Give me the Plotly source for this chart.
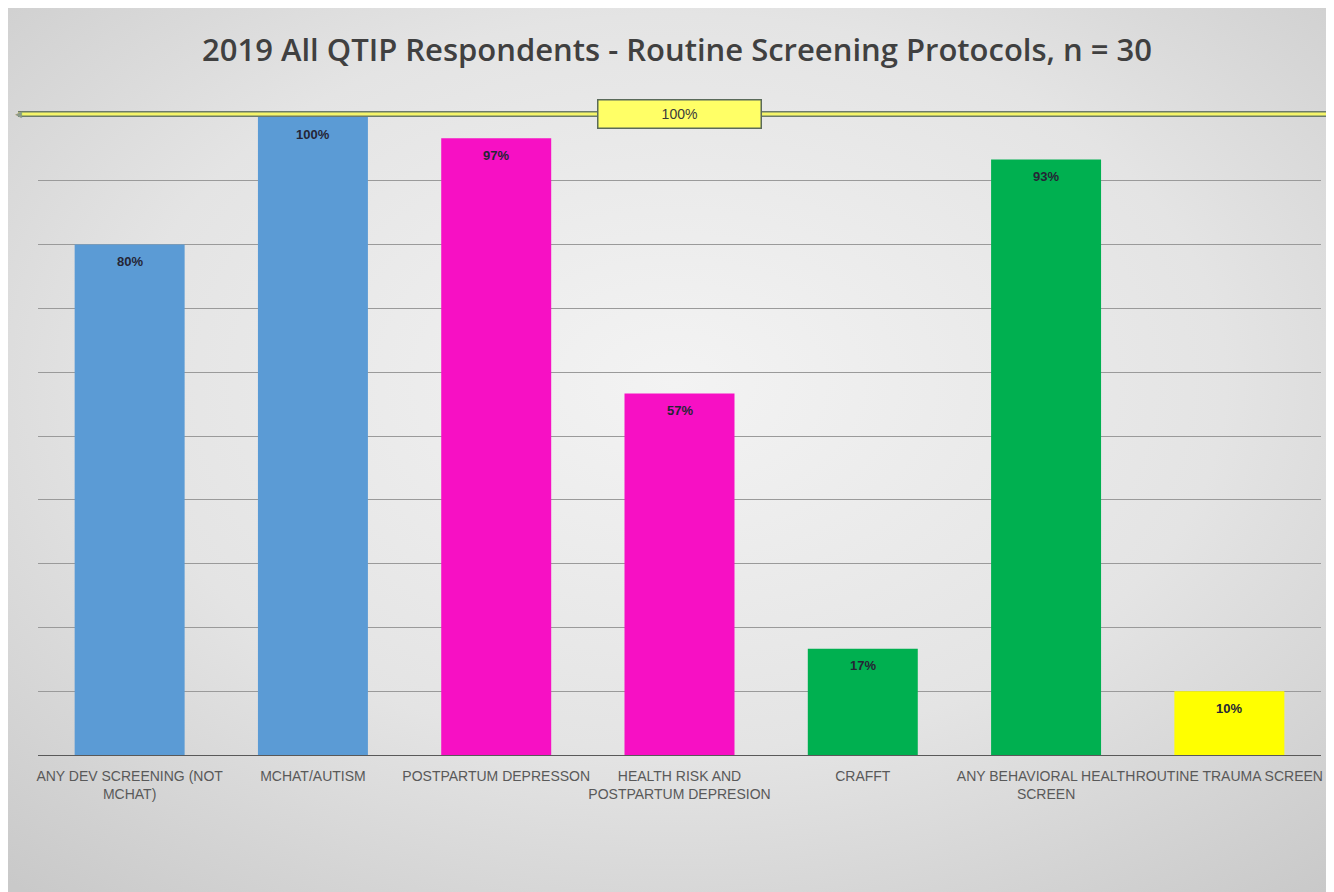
import base64
import plotly.graph_objects as go

categories = ["ANY DEV SCREENING (NOT<br>MCHAT)", "MCHAT/AUTISM", "POSTPARTUM DEPRESSON",
              "HEALTH RISK AND<br>POSTPARTUM DEPRESION", "CRAFFT",
              "ANY BEHAVIORAL HEALTH<br>SCREEN", "ROUTINE TRAUMA SCREEN"]
counts = [24, 30, 29, 17, 5, 28, 3]
n_total = 30
labels = ["80%", "100%", "97%", "57%", "17%", "93%", "10%"]
bar_colors = ["#5B9BD5", "#5B9BD5", "#F710C4", "#F710C4", "#00B050", "#00B050", "#FFFF00"]
target_label = "100%"

values = [c / n_total for c in counts]

W, H = 1334, 892
L, R, T, B = 30, 21, 109, 145
PW, PH = W - L - R, H - T - B

fig = go.Figure()
fig.add_trace(go.Bar(
    x=categories, y=values, marker=dict(color=bar_colors, line=dict(width=0)),
    cliponaxis=False, hoverinfo="skip"))

for c, v, lab in zip(categories, values, labels):
    fig.add_annotation(x=c, y=v, text=lab, showarrow=False, yshift=-17, yanchor="middle",
                       font=dict(family="Liberation Sans Narrow, Liberation Sans", size=13,
                                 color="#252535", weight="bold"))

# gradient background via inline svg
svg = ('<svg xmlns="http://www.w3.org/2000/svg" width="1334" height="892">'
       '<defs><radialGradient id="g" cx="0.5" cy="0.42" r="0.75">'
       '<stop offset="0" stop-color="#F3F3F3"/><stop offset="0.55" stop-color="#E4E4E4"/>'
       '<stop offset="1" stop-color="#C9C9C9"/></radialGradient></defs>'
       '<rect width="1334" height="892" fill="url(#g)"/></svg>')
src = "data:image/svg+xml;base64," + base64.b64encode(svg.encode()).decode()
fig.add_layout_image(source=src, xref="paper", yref="paper", x=-L / PW, y=1 + T / PH,
                     sizex=W / PW, sizey=H / PH, sizing="stretch", xanchor="left", yanchor="top",
                     layer="below")

# target line at 100%
ty = 1 + 3 / PH
x0 = (18 - 38) / PW
x1 = (1340 - 38) / PW
fig.add_shape(type="line", xref="paper", yref="paper", x0=x0, x1=x1, y0=ty, y1=ty,
              line=dict(color="#6B7B6B", width=6), layer="above")
fig.add_shape(type="line", xref="paper", yref="paper", x0=x0, x1=x1, y0=ty, y1=ty,
              line=dict(color="#F5F56A", width=3), layer="above")
fig.add_annotation(xref="paper", yref="paper", x=x0, y=ty, text="◄", showarrow=False,
                   font=dict(size=11, color="#8A9A8A"), xanchor="center", yanchor="middle")
fig.add_annotation(xref="paper", yref="paper", x=(679 - 38) / PW, y=ty, text=target_label,
                   showarrow=False, bgcolor="#FFFF66", bordercolor="#5A6A5A", borderwidth=1.5,
                   width=160, height=25, borderpad=1,
                   font=dict(family="Liberation Sans Narrow, Liberation Sans", size=14, color="#3A3A3A"),
                   xanchor="center", yanchor="middle")

fig.update_layout(
    width=W, height=H,
    margin=dict(l=L, r=R, t=T, b=B, autoexpand=False),
    paper_bgcolor="#E2E2E2", plot_bgcolor="rgba(0,0,0,0)",
    bargap=0.4, showlegend=False,
    title=dict(text="2019 All QTIP Respondents - Routine Screening Protocols, n = 30",
               x=(677 - 8) / W, xanchor="center", y=1 - 42 / H, yanchor="middle",
               font=dict(family="Open Sans", size=31, color="#404040", weight=600)),
    font=dict(family="Liberation Sans Narrow, Liberation Sans"),
)
fig.update_xaxes(showline=True, linecolor="#595959", linewidth=1, ticks="",
                 tickfont=dict(family="Liberation Sans Narrow, Liberation Sans", size=14, color="#595959"),
                 tickangle=0, ticklabelstandoff=8)
fig.update_yaxes(range=[0, 1.0], dtick=0.1, showgrid=True, gridcolor="#9A9A9A", gridwidth=1,
                 showticklabels=False, zeroline=False, ticks="")

fig.write_html("out.html")
